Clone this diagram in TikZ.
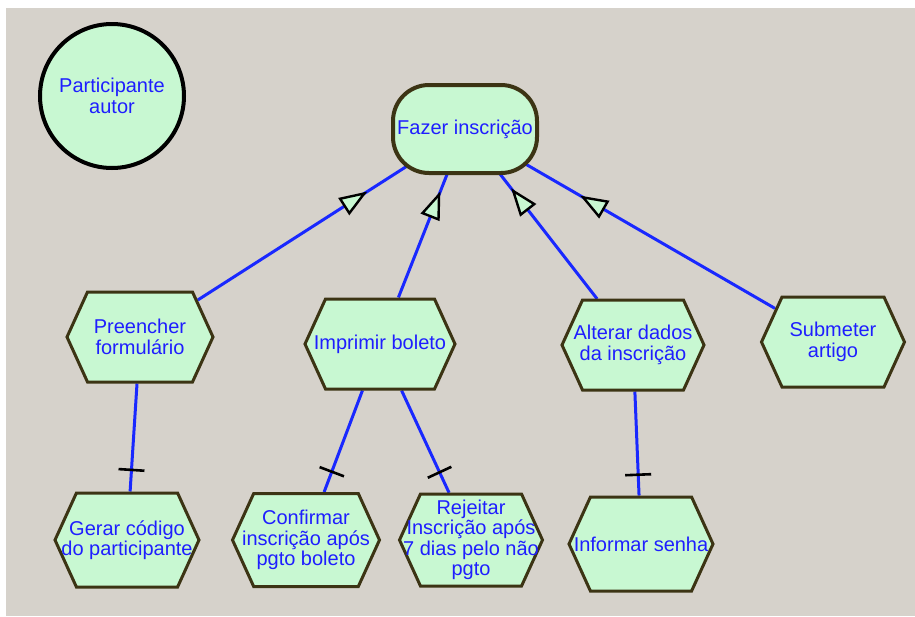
\documentclass[tikz,border=0pt]{standalone}
\usepackage{fontspec}
\setmainfont{Liberation Sans}
\usetikzlibrary{shapes.symbols,arrows.meta,decorations.markings}
\definecolor{canvas}{RGB}{214,210,203}
\definecolor{leaf}{RGB}{200,248,210}
\definecolor{rim}{RGB}{60,52,20}
\definecolor{ink}{RGB}{30,30,255}
\definecolor{wire}{RGB}{25,40,255}
\pgfdeclarelayer{paper}
\pgfdeclarelayer{wires}
\pgfsetlayers{paper,wires,main}
\begin{document}
\begin{tikzpicture}[x=1pt,y=-1pt,
  every node/.style={font=\fontsize{20}{20.5}\selectfont, text=ink, align=center},
  task/.style={shape=signal, signal to=west and east, signal pointer angle=131,
    minimum width=146pt, minimum height=90pt, inner xsep=-20pt, inner ysep=0pt,
    fill=leaf, draw=rim, line width=3pt},
  goal/.style={rectangle, rounded corners=36pt, minimum width=144pt,
    minimum height=88pt, inner sep=0pt, fill=leaf, draw=rim, line width=4pt},
  actor/.style={circle, minimum size=144pt, inner sep=0pt, fill=leaf,
    draw=black, line width=4pt},
  link/.style={draw=wire, line width=3pt},
  refine/.style={link, postaction={decorate}, decoration={markings,
    mark=at position #1 with {\arrow{Triangle[length=28pt,width=20pt,line width=2.4pt,color=black,fill=leaf]}}}},
  part/.style={link, postaction={decorate}, decoration={markings,
    mark=at position 0.8 with {\draw[black,line width=2.6pt] (0pt,-13pt) -- (0pt,13pt);}}},
]
% canvas
\useasboundingbox (0,0) rectangle (915,616);
\begin{pgfonlayer}{paper}
\fill[white] (0,0) rectangle (915,616);
\fill[canvas] (6,8) rectangle (915,616);
\end{pgfonlayer}

% actor and top goal
\node[actor] (pa) at (112,96) {Participante\\autor};
\node[goal] (fi) at (465,129) {Fazer inscrição};

% first level tasks
\node[task] (pf) at (140,337) {Preencher\\formulário};
\node[task, minimum width=150pt] (ib) at (380,344) {Imprimir boleto};
\node[task, minimum width=142pt] (ad) at (633,345) {Alterar dados\\da inscrição};
\node[task, minimum width=143pt] (sa) at (833,342) {Submeter\\artigo};

% second level tasks
\node[task, minimum width=144pt, minimum height=94pt] (gc) at (127,540) {Gerar código\\do participante};
\node[task, minimum width=147pt, minimum height=93pt] (cf) at (306,540) {Confirmar\\inscrição após\\pgto boleto};
\node[task, minimum width=143pt, minimum height=92pt] (rj) at (471,540) {Rejeitar\\Inscrição após\\7 dias pelo não\\pgto};
\node[task, minimum width=144pt, minimum height=94pt] (is) at (641,544) {Informar senha};

\begin{pgfonlayer}{wires}
% refinement links, running under the goal into its centre
\draw[refine=-116pt] (pf) -- (fi.center);
\draw[refine=-67pt] (ib) -- (fi.center);
\draw[refine=-75pt] (ad) -- (fi.center);
\draw[refine=-133pt] (sa) -- (fi.center);

% decomposition links
\draw[part] (pf) -- (gc);
\draw[part] (ib) -- (cf);
\draw[part] (ib) -- (rj);
\draw[part] (ad) -- (is);
\end{pgfonlayer}
\end{tikzpicture}
\end{document}
